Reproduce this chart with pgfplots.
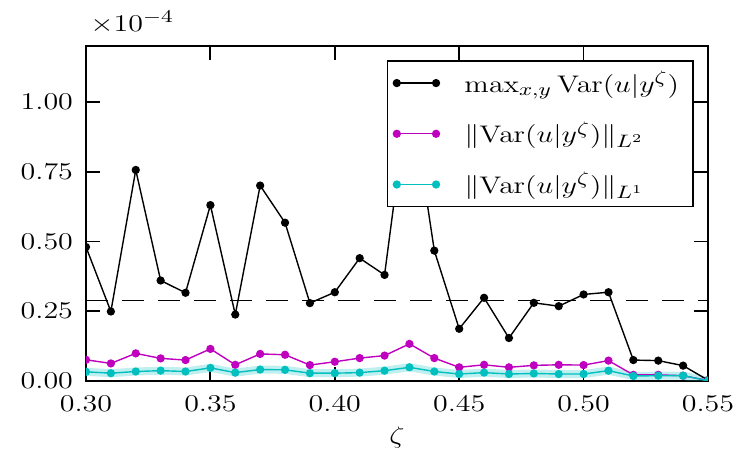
\documentclass[border=0pt]{standalone}
\usepackage{graphicx}
\usepackage{pgfplots}
\usepackage{pgfplotstable}
\pgfplotsset{compat=1.18}
\usetikzlibrary{calc}
\definecolor{mplm}{rgb}{0.75,0,0.75}
\definecolor{mplc}{rgb}{0,0.75,0.75}
\newcommand{\wide}[1]{\scalebox{1.25}[1]{#1}}
\pgfplotstableread{
z     mx     ltwo   lone
0.30  0.480  0.076  0.033
0.31  0.249  0.063  0.028
0.32  0.756  0.099  0.034
0.33  0.360  0.081  0.037
0.34  0.316  0.075  0.034
0.35  0.630  0.115  0.047
0.36  0.238  0.058  0.030
0.37  0.700  0.097  0.041
0.38  0.567  0.094  0.040
0.39  0.279  0.057  0.028
0.40  0.318  0.069  0.028
0.41  0.440  0.082  0.030
0.42  0.380  0.091  0.037
0.43  1.060  0.133  0.049
0.44  0.467  0.082  0.034
0.45  0.187  0.049  0.025
0.46  0.298  0.058  0.030
0.47  0.154  0.049  0.025
0.48  0.280  0.056  0.027
0.49  0.268  0.058  0.025
0.50  0.310  0.057  0.025
0.51  0.318  0.073  0.037
0.52  0.075  0.022  0.018
0.53  0.073  0.022  0.019
0.54  0.055  0.019  0.019
0.55  0.003  0.002  0.001
}\datatable
\begin{document}
\begin{tikzpicture}
\begin{axis}[
  scale only axis,
  width=311pt, height=167.5pt,
  xmin=0.30, xmax=0.55, ymin=0, ymax=1.2,
  xtick={0.30,0.35,...,0.55},
  ytick={0,0.25,0.5,0.75,1.0},
  xticklabel={\wide{$\pgfmathprintnumber[fixed,fixed zerofill,precision=2]{\tick}$}},
  yticklabel={\wide{$\pgfmathprintnumber[fixed,fixed zerofill,precision=2]{\tick}$}},
  ticklabel style={font=\fontsize{12.5}{14}\selectfont},
  xticklabel style={yshift=-4pt},
  yticklabel style={xshift=-3pt},
  scaled x ticks=false, scaled y ticks=false,
  tick align=inside,
  major tick length=7pt,
  axis line style={line width=0.9pt},
  every tick/.style={black,line width=0.9pt},
  xlabel={\wide{$\zeta$}},
  xlabel style={font=\fontsize{12.5}{14}\selectfont, yshift=-1pt},
  clip marker paths=true,
  legend style={at={(0.9775,0.958)}, anchor=north east, draw=black, line width=0.9pt,
    fill=white, font=\fontsize{12.5}{14}\selectfont,
    row sep=9.25pt, inner xsep=3pt, inner ysep=3pt,
    nodes={inner xsep=4pt},
    /tikz/every odd column/.append style={column sep=8.5pt}},
  legend cell align=left,
  legend image code/.code={\draw[#1,mark repeat=1] plot coordinates {(0cm,0cm) (0.69cm,0cm)};},
]
\addplot[black, line width=0.8pt, dash pattern=on 11pt off 7pt, forget plot] coordinates {(0.30,0.288) (0.55,0.288)};
\addplot[mplc, line width=4pt, opacity=0.25, forget plot] table[x=z,y=lone] {\datatable};
\addplot[black, line width=0.7pt, mark=*, mark size=1.7pt] table[x=z,y=mx] {\datatable};
\addlegendentry{\wide{$\max\nolimits_{x,y} \mathrm{Var}(u|y^{\zeta})$}}
\addplot[mplm, line width=0.7pt, mark=*, mark size=1.7pt] table[x=z,y=ltwo] {\datatable};
\addlegendentry{\wide{$\|\mathrm{Var}(u|y^{\zeta})\|_{L^2}$}}
\addplot[mplc, line width=0.7pt, mark=*, mark size=1.7pt] table[x=z,y=lone] {\datatable};
\addlegendentry{\wide{$\|\mathrm{Var}(u|y^{\zeta})\|_{L^1}$}}
\end{axis}
\node[anchor=south west, inner sep=1pt, font=\fontsize{12.5}{14}\selectfont] at ($(current axis.north west)+(1pt,5pt)$) {\wide{$\times 10^{-4}$}};
\path ($(current axis.south west)+(-43pt,-35.5pt)$) rectangle ($(current axis.north east)+(18.5pt,23pt)$);
\end{tikzpicture}
\end{document}
